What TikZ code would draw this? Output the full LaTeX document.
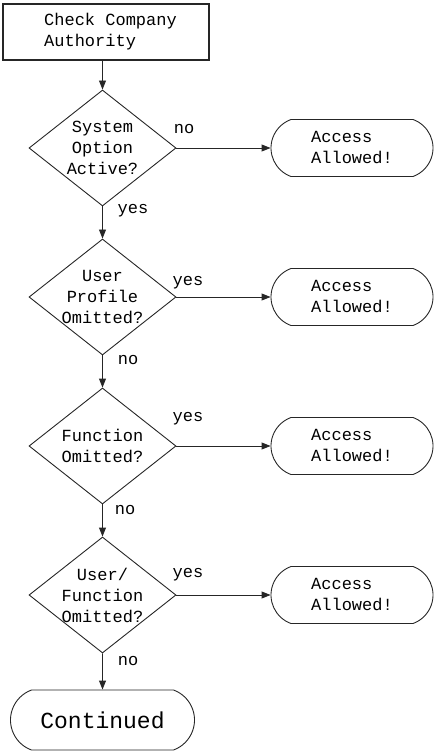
\documentclass[tikz,border=0pt]{standalone}
\usepackage{fontspec}
\setmainfont{Liberation Mono}
\usetikzlibrary{shapes.geometric,shapes.misc,arrows.meta}

\tikzstyle{authority}=[rectangle,draw,line width=1.2pt,minimum width=206pt,minimum height=56pt,inner sep=0pt,align=left]
\tikzstyle{question}=[diamond,draw,line width=0.9pt,minimum width=147pt,minimum height=116pt,inner sep=-6pt,align=center]
\tikzstyle{allowed}=[rounded rectangle,rounded rectangle arc length=140,draw,line width=0.9pt,minimum width=162pt,minimum height=57pt,inner sep=0pt,align=left]
\tikzstyle{flow}=[draw,line width=0.9pt,-{Triangle[length=9pt,width=7pt]}]
\tikzstyle{answer}=[inner sep=0pt]

\begin{document}
\begin{tikzpicture}[x=1pt,y=-1pt,font=\fontsize{17}{21}\selectfont,draw=black!85]
    \useasboundingbox (0,0) rectangle (435,751);
    %Start node
    \node[authority] (check) at (106,32) {\hspace*{9pt}Check Company\\\hspace*{9pt}Authority};
    %Question nodes
    \foreach \pos/\name/\txt in {{(102.5,148)/q1/{System\\Option\\Active?}},
                                 {(102.5,297)/q2/{User\\Profile\\Omitted?}},
                                 {(102.5,446)/q3/{Function\\Omitted?}},
                                 {(102.5,595)/q4/{User/\\Function\\Omitted?}}}
    \node[question] (\name) at \pos {\txt};
    %Allowed nodes
    \foreach \y/\name in {148/a1, 297/a2, 446/a3, 595/a4}
    \node[allowed] (\name) at (352,\y) {Access\\Allowed!};
    %End node
    \node[allowed,minimum width=184pt,minimum height=60pt,font=\fontsize{23}{27}\selectfont] (cont) at (102.5,720) {Continued};
    %Answers
    \foreach \pos/\name/\lbl in {{(184,129)/n1/no}, {(133,211)/y1/yes},
                                 {(188,283)/y2/yes}, {(128,360)/n2/no},
                                 {(188,419)/y3/yes}, {(125,510)/n3/no},
                                 {(188,575)/y4/yes}, {(128,661)/n4/no}}
    \node[answer] (\name) at \pos {\lbl};
    %Arrows
    \draw[flow] (check.south -| q1.north) -- (q1.north);
    \foreach \from/\to in {q1/q2, q2/q3, q3/q4, q4/cont}
    \draw[flow] (\from) -- (\to);
    \foreach \q/\a in {q1/a1, q2/a2, q3/a3, q4/a4}
    \draw[flow] (\q) -- (\a);
\end{tikzpicture}
\end{document}
